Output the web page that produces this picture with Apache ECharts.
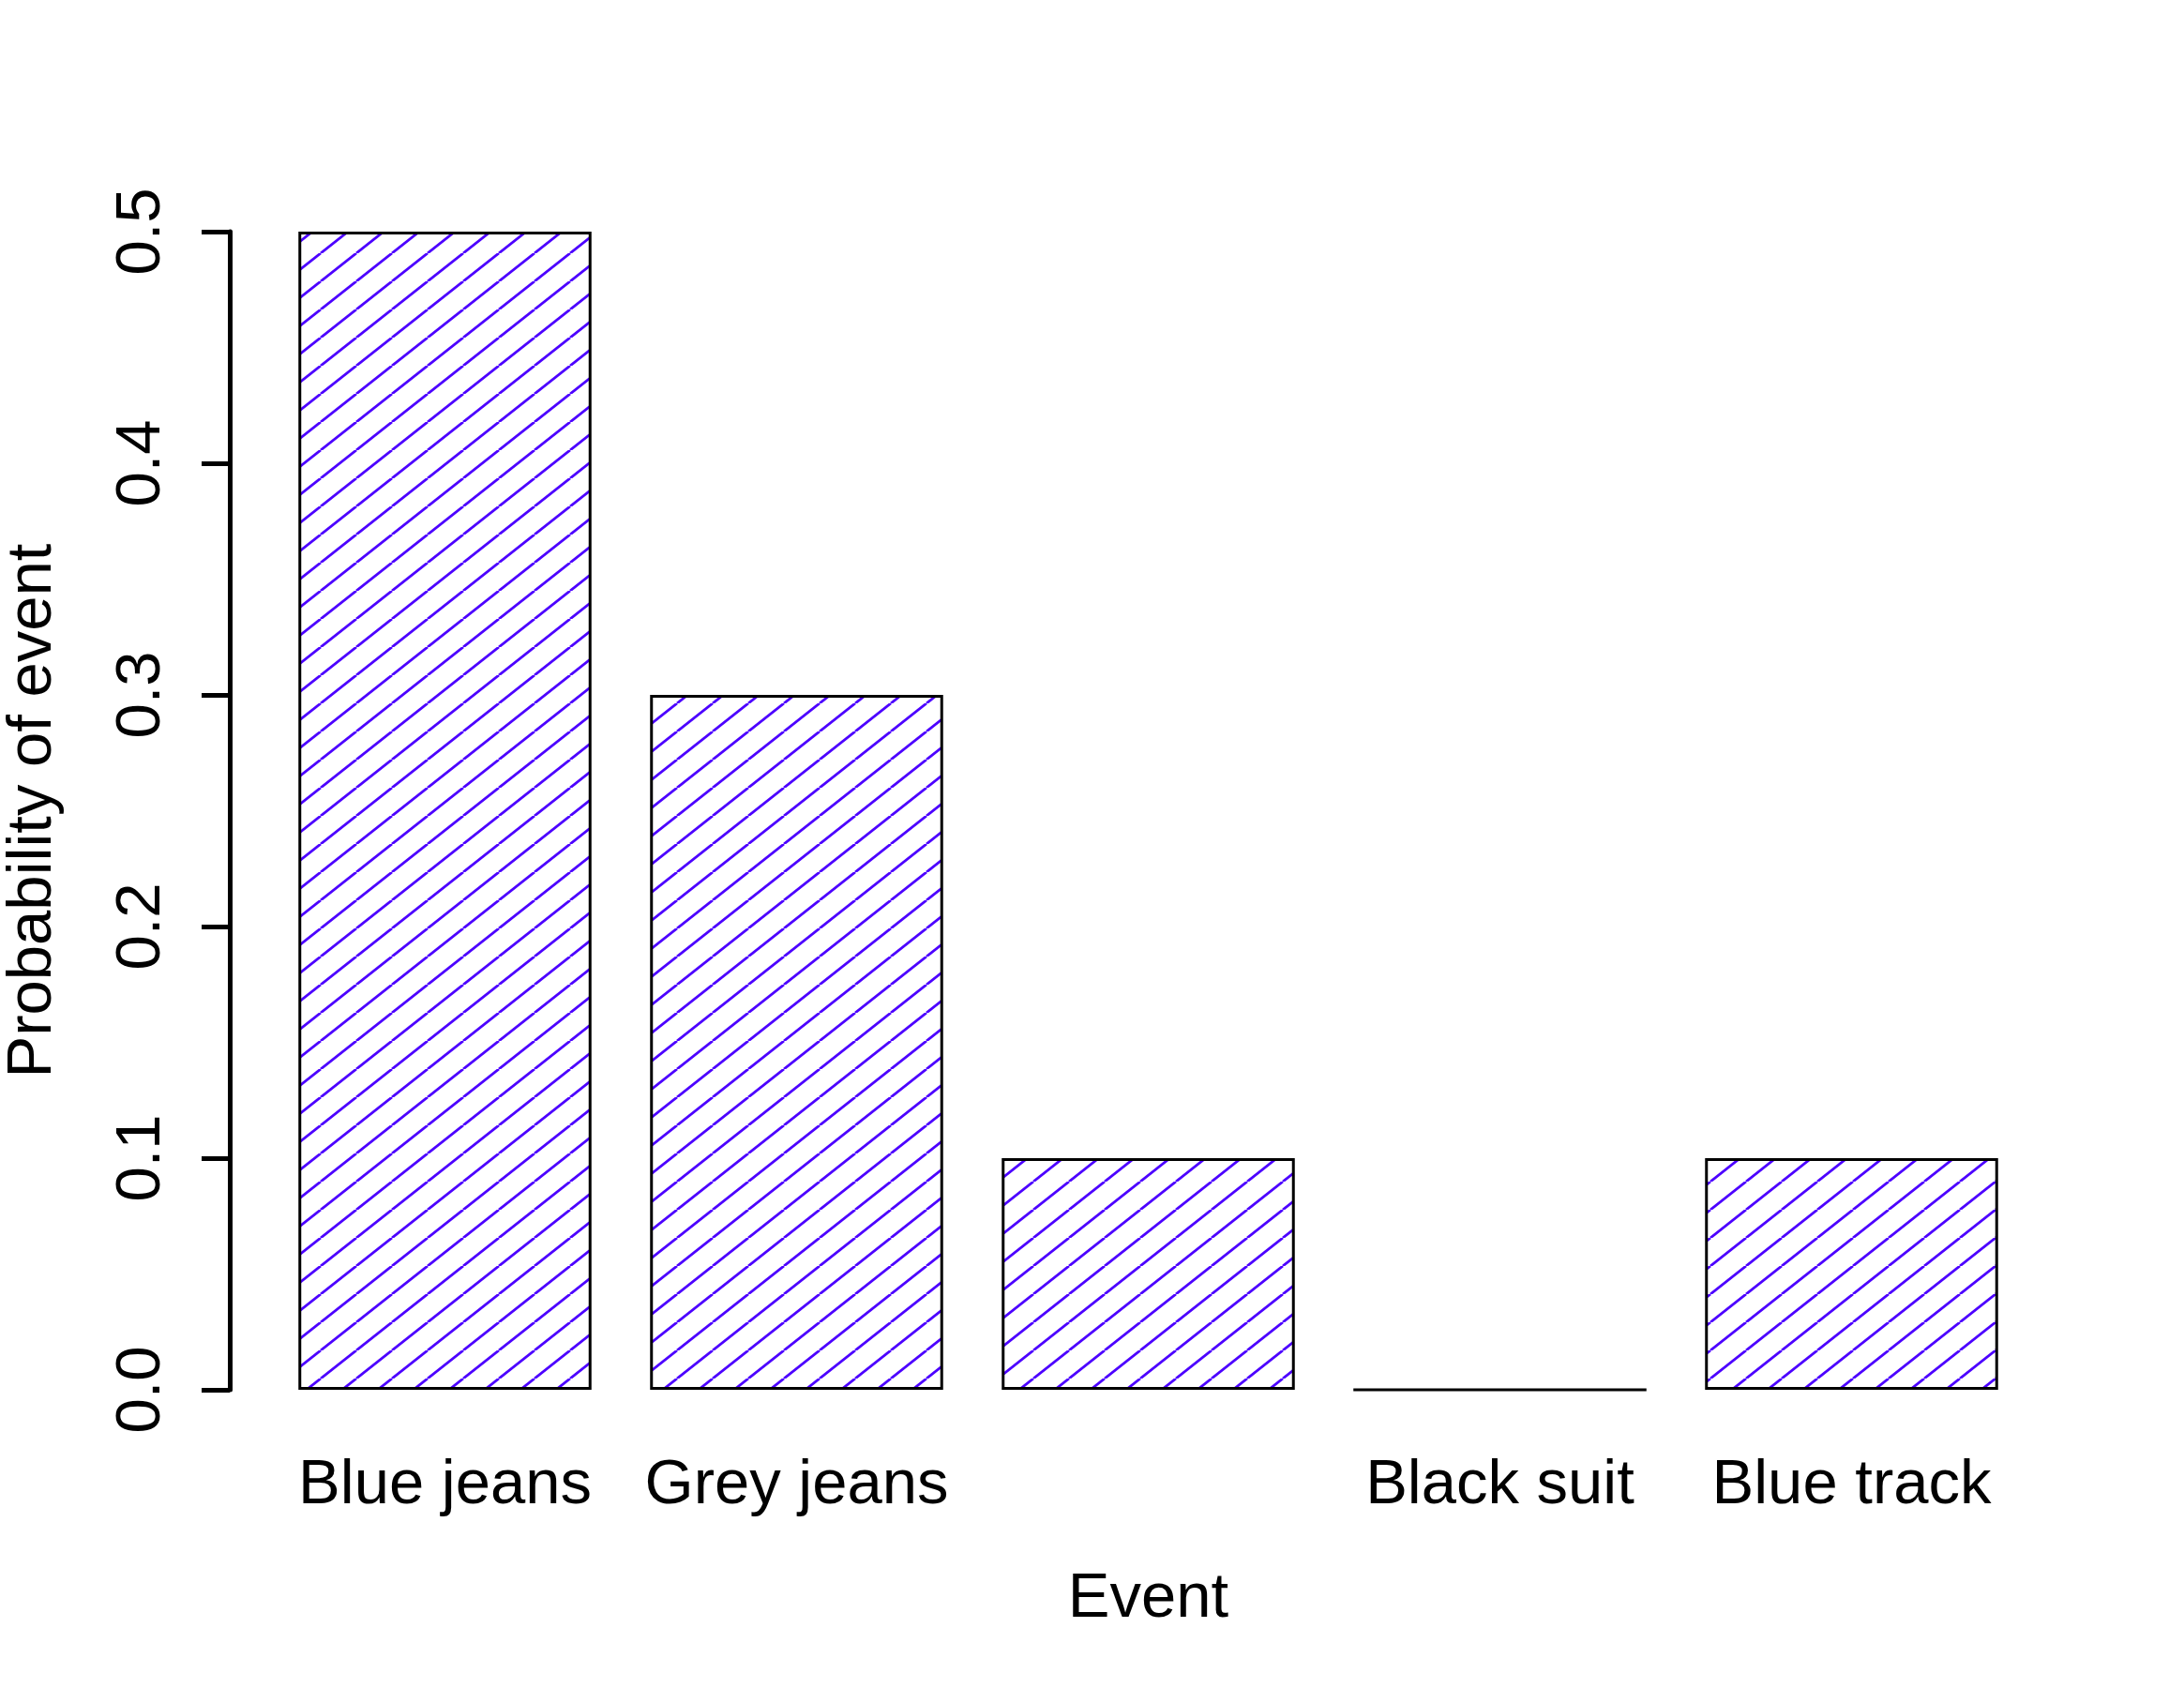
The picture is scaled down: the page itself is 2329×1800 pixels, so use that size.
<!DOCTYPE html>
<html>
<head>
<meta charset="utf-8">
<title>Probability of event</title>
<script src="https://cdn.jsdelivr.net/npm/echarts@6/dist/echarts.min.js"></script>
<style>
	html, body { margin: 0; padding: 0; background: #fff; }
	#container { width: 2329px; height: 1800px; }
</style>
</head>
<body>
<div id="container"></div>
<script>
// 数据
var events = [ 'Blue jeans', 'Grey jeans', 'Black jeans', 'Black suit', 'Blue track' ];
var probabilities = [ 0.5, 0.3, 0.1, 0.0, 0.1 ];
var yTickLabels = [ '0.0', '0.1', '0.2', '0.3', '0.4', '0.5' ];
// label that the original plot drops because it would overlap its neighbour
var droppedLabels = [ 'Black jeans' ];

var FONT = "'Liberation Sans', Arial, Helvetica, sans-serif";

// diagonal hatch tile, like R's density/angle shading
function makeHatch() {
	var w = 38, h = 30;
	var c = document.createElement('canvas');
	c.width = w;
	c.height = h;
	var ctx = c.getContext('2d');
	ctx.fillStyle = '#ffffff';
	ctx.fillRect(0, 0, w, h);
	ctx.strokeStyle = '#4c00ff';
	ctx.lineWidth = 2.8;
	for (var k = -1; k <= 1; k++) {
		ctx.beginPath();
		ctx.moveTo(k * w, h);
		ctx.lineTo((k + 1) * w, 0);
		ctx.stroke();
	}
	return c;
}

var myChart = echarts.init(document.getElementById('container'));

myChart.setOption({
	animation : false,
	backgroundColor : '#ffffff',
	grid : {
		left : 287,
		top : 247,
		width : 1875,
		height : 1235,
		containLabel : false,
		outerBoundsMode : 'none'
	},
	xAxis : {
		type : 'category',
		data : events,
		name : 'Event',
		nameLocation : 'middle',
		nameGap : 190,
		nameTextStyle : {
			fontFamily : FONT,
			fontSize : 67,
			lineHeight : 67,
			color : '#000'
		},
		axisLine : { show : false },
		axisTick : { show : false },
		splitLine : { show : false },
		axisLabel : {
			interval : function(index, value) {
				return droppedLabels.indexOf(value) < 0;
			},
			margin : 69,
			fontFamily : FONT,
			fontSize : 67,
			lineHeight : 67,
			color : '#000'
		}
	},
	yAxis : {
		type : 'value',
		min : 0,
		max : 0.5,
		interval : 0.1,
		offset : 42,
		name : 'Probability of event',
		nameLocation : 'middle',
		nameRotate : 90,
		nameGap : 176,
		nameTextStyle : {
			fontFamily : FONT,
			fontSize : 67,
			lineHeight : 67,
			color : '#000'
		},
		axisLine : {
			show : true,
			lineStyle : { color : '#000', width : 5 }
		},
		axisTick : {
			show : true,
			length : 30,
			lineStyle : { color : '#000', width : 5 }
		},
		splitLine : { show : false },
		axisLabel : {
			rotate : 90,
			margin : 60,
			fontFamily : FONT,
			fontSize : 67,
			lineHeight : 67,
			color : '#000',
			formatter : function(value) {
				return yTickLabels[Math.round(value * 10)];
			}
		}
	},
	series : [ {
		type : 'bar',
		data : probabilities,
		barCategoryGap : '16.6667%',
		itemStyle : {
			color : { image : makeHatch(), repeat : 'repeat' },
			borderColor : '#000',
			borderWidth : 3
		},
		emphasis : { disabled : true }
	} ]
});
</script>
</body>
</html>
